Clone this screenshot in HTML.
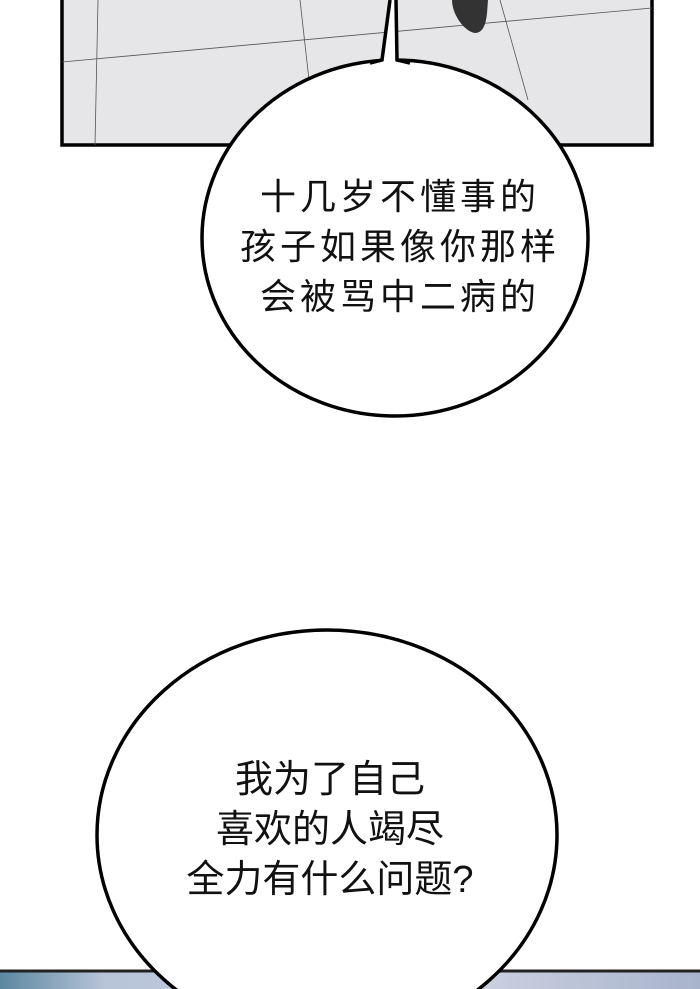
<!DOCTYPE html>
<html><head><meta charset="utf-8"><style>
html,body{margin:0;padding:0;width:700px;height:989px;overflow:hidden;background:#fff;position:relative}
.t{position:absolute;font-family:"Liberation Sans","Noto Sans CJK SC",sans-serif;color:#111;text-align:center;line-height:50px;white-space:nowrap}
</style></head><body>
<svg width="700" height="989" style="position:absolute;left:0;top:0;display:block">
<defs><linearGradient id="g" x1="0" x2="1"><stop offset="0" stop-color="#5c87a0"/><stop offset="0.15" stop-color="#b8c4d8"/><stop offset="0.7" stop-color="#c9cfdf"/><stop offset="1" stop-color="#a8b4cc"/></linearGradient></defs>
<rect x="62" y="-5" width="590" height="150" fill="#e6e6e8" stroke="#000" stroke-width="3.5"/>
<line x1="62" y1="62" x2="652" y2="8" stroke="#555" stroke-width="0.8"/>
<line x1="98" y1="0" x2="95" y2="145" stroke="#555" stroke-width="0.8"/>
<line x1="300" y1="0" x2="309" y2="80" stroke="#555" stroke-width="0.8"/>
<line x1="500" y1="0" x2="528" y2="100" stroke="#555" stroke-width="0.8"/>
<path d="M452,0 C452,15 465,32 475,33 C488,33 487,10 488,0 Z" fill="#333"/>
<ellipse cx="395" cy="238" rx="193" ry="178" fill="#fff" stroke="#000" stroke-width="3.5"/>
<path d="M380,64 L390,0 L396,0 L399,64 Z" fill="#fff"/>
<path d="M370,63 L382,60 L390,0 M396,0 L397,60 L410,63" fill="none" stroke="#000" stroke-width="3.5"/>
<rect x="0" y="970" width="700" height="19" fill="url(#g)"/>
<line x1="0" y1="971" x2="700" y2="971" stroke="#222" stroke-width="3"/>
<ellipse cx="327" cy="835" rx="230" ry="205" fill="#fff" stroke="#000" stroke-width="3.5"/>
</svg>
<div class="t" style="left:200px;width:400px;top:172px;font-size:36px;letter-spacing:4px">十几岁不懂事的<br>孩子如果像你那样<br>会被骂中二病的</div>
<div class="t" style="left:130px;width:400px;top:755px;font-size:38px;letter-spacing:0px">我为了自己<br>喜欢的人竭尽<br>全力有什么问题?</div>
</body></html>
